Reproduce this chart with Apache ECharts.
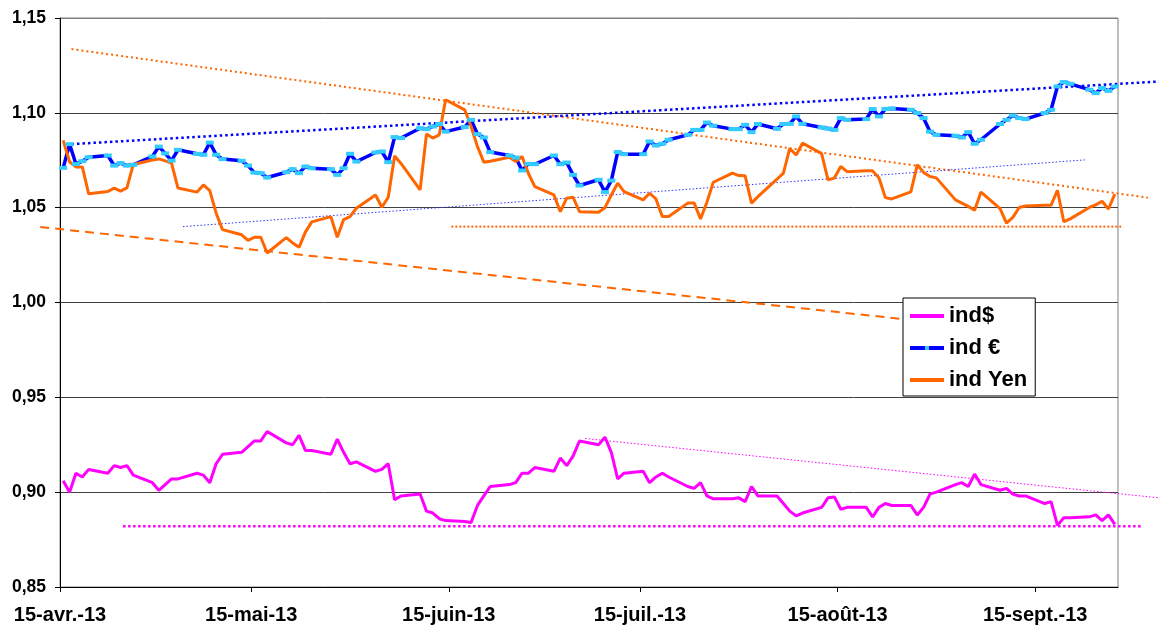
<!DOCTYPE html>
<html style="height: 100%">
<head>
<meta charset="utf-8">
</head>
<body style="height: 100%; margin: 0">
<div id="container" style="width: 1159px; height: 630px"></div>
<script type="text/javascript" src="https://cdn.jsdelivr.net/npm/echarts@6/dist/echarts.min.js"></script>
<script type="text/javascript">
// trading days (weekdays) 15 Apr 2013 -> 27 Sep 2013
var dates = [
  '2013-04-15','2013-04-16','2013-04-17','2013-04-18','2013-04-19',
  '2013-04-22','2013-04-23','2013-04-24','2013-04-25','2013-04-26',
  '2013-04-29','2013-04-30','2013-05-01','2013-05-02','2013-05-03',
  '2013-05-06','2013-05-07','2013-05-08','2013-05-09','2013-05-10',
  '2013-05-13','2013-05-14','2013-05-15','2013-05-16','2013-05-17',
  '2013-05-20','2013-05-21','2013-05-22','2013-05-23','2013-05-24',
  '2013-05-27','2013-05-28','2013-05-29','2013-05-30','2013-05-31',
  '2013-06-03','2013-06-04','2013-06-05','2013-06-06','2013-06-07',
  '2013-06-10','2013-06-11','2013-06-12','2013-06-13','2013-06-14',
  '2013-06-17','2013-06-18','2013-06-19','2013-06-20','2013-06-21',
  '2013-06-24','2013-06-25','2013-06-26','2013-06-27','2013-06-28',
  '2013-07-01','2013-07-02','2013-07-03','2013-07-04','2013-07-05',
  '2013-07-08','2013-07-09','2013-07-10','2013-07-11','2013-07-12',
  '2013-07-15','2013-07-16','2013-07-17','2013-07-18','2013-07-19',
  '2013-07-22','2013-07-23','2013-07-24','2013-07-25','2013-07-26',
  '2013-07-29','2013-07-30','2013-07-31','2013-08-01','2013-08-02',
  '2013-08-05','2013-08-06','2013-08-07','2013-08-08','2013-08-09',
  '2013-08-12','2013-08-13','2013-08-14','2013-08-15','2013-08-16',
  '2013-08-19','2013-08-20','2013-08-21','2013-08-22','2013-08-23',
  '2013-08-26','2013-08-27','2013-08-28','2013-08-29','2013-08-30',
  '2013-09-02','2013-09-03','2013-09-04','2013-09-05','2013-09-06',
  '2013-09-09','2013-09-10','2013-09-11','2013-09-12','2013-09-13',
  '2013-09-16','2013-09-17','2013-09-18','2013-09-19','2013-09-20',
  '2013-09-23','2013-09-24','2013-09-25','2013-09-26','2013-09-27'
];

var indUsd = [
  0.906, 0.900, 0.910, 0.908, 0.912,
  0.910, 0.914, 0.913, 0.914, 0.909,
  0.905, 0.901, 0.904, 0.907, 0.907,
  0.910, 0.909, 0.905, 0.915, 0.920,
  0.921, 0.924, 0.927, 0.927, 0.932,
  0.926, 0.925, 0.930, 0.922, 0.922,
  0.920, 0.928, 0.921, 0.915, 0.916,
  0.911, 0.912, 0.915, 0.896, 0.898,
  0.899, 0.890, 0.889, 0.886, 0.885,
  0.8845, 0.884, 0.893, 0.898, 0.903,
  0.904, 0.905, 0.910, 0.910, 0.913,
  0.911, 0.918, 0.914, 0.919, 0.927,
  0.925, 0.929, 0.921, 0.907, 0.910,
  0.911, 0.905, 0.908, 0.910, 0.908,
  0.903, 0.902, 0.905, 0.898, 0.8965,
  0.8965, 0.897, 0.895, 0.903, 0.898,
  0.898, 0.894, 0.890, 0.8875, 0.889,
  0.892, 0.897, 0.8975, 0.891, 0.892,
  0.892, 0.887, 0.892, 0.894, 0.893,
  0.893, 0.888, 0.892, 0.899, 0.900,
  0.904, 0.905, 0.903, 0.9095, 0.904,
  0.901, 0.902, 0.899, 0.898, 0.898,
  0.894, 0.895, 0.8825, 0.8865, 0.8865,
  0.887, 0.888, 0.885, 0.888, 0.883
];

var indEur = [
  1.0710, 1.0835, 1.0730, 1.0745, 1.0766,
  1.0775, 1.0722, 1.0735, 1.0722, 1.0726,
  1.0770, 1.0822, 1.0786, 1.0748, 1.0805,
  1.0784, 1.0779, 1.0843, 1.0779, 1.0756,
  1.0747, 1.0722, 1.0685, 1.0682, 1.0659,
  1.0687, 1.0703, 1.0682, 1.0717, 1.0708,
  1.0703, 1.0673, 1.0708, 1.0784, 1.0743,
  1.0791, 1.0796, 1.0740, 1.0872, 1.0867,
  1.0919, 1.0914, 1.0928, 1.0941, 1.0901,
  1.0925, 1.0963, 1.0888, 1.0870, 1.0793,
  1.0775, 1.0764, 1.0696, 1.0731, 1.0729,
  1.0775, 1.0729, 1.0738, 1.0673, 1.0617,
  1.0647, 1.0582, 1.0643, 1.0793, 1.0782,
  1.0782, 1.0849, 1.0828, 1.0837, 1.0858,
  1.0884, 1.0910, 1.0910, 1.0949, 1.0932,
  1.0914, 1.0914, 1.0937, 1.0898, 1.0941,
  1.0916, 1.0941, 1.0942, 1.0981, 1.0942,
  1.0923, 1.0917, 1.0910, 1.0972, 1.0963,
  1.0967, 1.1020, 1.0981, 1.1020, 1.1023,
  1.1016, 1.0999, 1.0972, 1.0901, 1.0884,
  1.0879, 1.0870, 1.0898, 1.0837, 1.0858,
  1.0941, 1.0963, 1.0986, 1.0972, 1.0967,
  1.0999, 1.1016, 1.1139, 1.1162, 1.1153,
  1.1122, 1.1104, 1.1131, 1.1116, 1.1139
];

var indYen = [
  1.0855, 1.0742, 1.0715, 1.0715, 1.0573,
  1.0585, 1.0603, 1.0587, 1.0604, 1.0728,
  1.0751, 1.0757, 1.0747, 1.0735, 1.0604,
  1.0582, 1.0620, 1.0590, 1.0471, 1.0384,
  1.0357, 1.0328, 1.0344, 1.0344, 1.0261,
  1.0342, 1.0314, 1.0291, 1.0371, 1.0425,
  1.0453, 1.0344, 1.0437, 1.0453, 1.0497,
  1.0567, 1.0502, 1.0555, 1.0772, 1.0733,
  1.0594, 1.0888, 1.0867, 1.0884, 1.1069,
  1.1016, 1.0928, 1.0822, 1.0740, 1.0745,
  1.0766, 1.0743, 1.0770, 1.0680, 1.0611,
  1.0567, 1.0479, 1.0550, 1.0555, 1.0479,
  1.0476, 1.0500, 1.0567, 1.0629, 1.0585,
  1.0541, 1.0576, 1.0546, 1.0453, 1.0453,
  1.0524, 1.0524, 1.0441, 1.0529, 1.0634,
  1.0682, 1.0669, 1.0668, 1.0524, 1.0558,
  1.0650, 1.0682, 1.0812, 1.0778, 1.0840,
  1.0785, 1.0647, 1.0656, 1.0717, 1.0690,
  1.0694, 1.0694, 1.0656, 1.0553, 1.0546,
  1.0583, 1.0726, 1.0686, 1.0664, 1.0657,
  1.0541, 1.0524, 1.0507, 1.0487, 1.0582,
  1.0495, 1.0418, 1.0449, 1.0501, 1.0509,
  1.0513, 1.0513, 1.0592, 1.0426, 1.0441,
  1.0501, 1.0515, 1.0534, 1.0493, 1.0571
];

// hand-drawn trend lines: [days since 15 Apr 2013, value]
var trendYenTop   = [[1.8, 1.1336], [170.7, 1.0553]];
var trendYenLow   = [[-3.1, 1.0398], [133.6, 0.9908]];
var trendYenFloor = [[61.4, 1.0400], [166.5, 1.0400]];
var trendEurTop   = [[1.8, 1.0835], [172.4, 1.1165]];
var trendEurLow   = [[19.3, 1.0400], [160.8, 1.0752]];
var trendUsdTop   = [[82.4, 0.9283], [172.4, 0.8970]];
var trendUsdFloor = [[9.9, 0.8820], [169.6, 0.8820]];

var tickDates  = ['2013-04-15','2013-05-15','2013-06-15','2013-07-15','2013-08-15','2013-09-15'];
var tickLabels = ['15-avr.-13','15-mai-13','15-juin-13','15-juil.-13','15-août-13','15-sept.-13'];

function dayOf(s) {
    var p = s.split('-');
    return (Date.UTC(+p[0], +p[1] - 1, +p[2]) - Date.UTC(2013, 3, 15)) / 86400000;
}
function pairs(vals) {
    // points sit in the middle of their day slot, like the Excel date axis
    return dates.map(function (d, i) { return [dayOf(d) + 0.5, vals[i]]; });
}
var tickDays = tickDates.map(dayOf);

// plot area and a wider overlay grid (same scale) so trend lines can run past the frame
var gridLeft = 60, gridRight = 41, W = 1159;
var xMax = 166;
var pxPerDay = (W - gridLeft - gridRight) / xMax;

function trend(name, data, color, width, type) {
    return {
        name: name, type: 'line', data: data, clip: false, silent: true,
        xAxisIndex: 1, yAxisIndex: 1,
        symbol: 'none', z: 1,
        lineStyle: { color: color, width: width, type: type }
    };
}

var dom = document.getElementById('container');
var myChart = echarts.init(dom);
var font = 'Liberation Sans, Arial, sans-serif';

var option = {
    animation: false,
    backgroundColor: '#fff',
    grid: [
        { left: gridLeft, right: gridRight, top: 18, bottom: 43, show: true, borderColor: '#808080', borderWidth: 1 },
        { left: 0, right: 0, top: 18, bottom: 43, show: false }
    ],
    legend: {
        data: ['ind$', 'ind €', 'ind Yen'],
        orient: 'vertical',
        left: 903, top: 298,
        padding: [7, 8, 5, 5],
        itemWidth: 34, itemHeight: 5, itemGap: 10,
        backgroundColor: '#fff',
        borderColor: '#000', borderWidth: 1,
        lineStyle: { width: 4 },
        textStyle: { fontFamily: font, fontWeight: 'bold', fontSize: 22, color: '#000', lineHeight: 22 }
    },
    xAxis: [{
        type: 'value', min: 0, max: xMax,
        splitLine: { show: false },
        axisLine: { lineStyle: { color: '#000', width: 1 } },
        axisTick: { customValues: tickDays, length: 5, lineStyle: { color: '#000' } },
        axisLabel: {
            customValues: tickDays, margin: 18,
            fontFamily: font, fontWeight: 'bold', fontSize: 20, color: '#000',
            formatter: function (v) { return tickLabels[tickDays.indexOf(v)]; }
        }
    }, {
        type: 'value', gridIndex: 1, show: false,
        min: -gridLeft / pxPerDay, max: xMax + gridRight / pxPerDay
    }],
    yAxis: [{
        type: 'value', min: 0.85, max: 1.15, interval: 0.05,
        axisLine: { show: true, lineStyle: { color: '#000', width: 1 } },
        axisTick: { show: true, length: 5, lineStyle: { color: '#000' } },
        splitLine: { lineStyle: { color: ['#404040', '#404040', '#404040', '#404040', '#404040', '#404040', '#808080'], width: 1 } },
        axisLabel: {
            margin: 14, fontFamily: font, fontWeight: 'bold', fontSize: 17.5, color: '#000',
            formatter: function (v) { return v.toFixed(2).replace('.', ','); }
        }
    }, {
        type: 'value', gridIndex: 1, show: false, min: 0.85, max: 1.15
    }],
    series: [
        trend('tYenTop', trendYenTop, '#FF6600', 2, [2, 3]),
        trend('tYenLow', trendYenLow, '#FF6600', 2, [9, 6]),
        trend('tYenFloor', trendYenFloor, '#FF6600', 2, [2, 2]),
        trend('tEurTop', trendEurTop, '#0000FF', 2.5, [2.5, 3]),
        trend('tEurLow', trendEurLow, '#3333FF', 1, [1.5, 2]),
        trend('tUsdTop', trendUsdTop, '#FF00FF', 1, [1.5, 2]),
        trend('tUsdFloor', trendUsdFloor, '#FF00FF', 2.5, [2.5, 2.5]),
        {
            name: 'ind$', type: 'line', data: pairs(indUsd), z: 3,
            symbol: 'none',
            lineStyle: { color: '#FF00FF', width: 3 },
            itemStyle: { color: '#FF00FF' }
        },
        {
            name: 'ind €', type: 'line', data: pairs(indEur), z: 3,
            symbol: 'rect', symbolSize: [8, 4], showSymbol: true,
            lineStyle: { color: '#0000FF', width: 3.5 },
            itemStyle: { color: '#33CCFF' }
        },
        {
            name: 'ind Yen', type: 'line', data: pairs(indYen), z: 3,
            symbol: 'none',
            lineStyle: { color: '#FF6600', width: 3 },
            itemStyle: { color: '#FF6600' }
        }
    ]
};

if (option && typeof option === 'object') {
    myChart.setOption(option, true);
}
</script>
</body>
</html>
